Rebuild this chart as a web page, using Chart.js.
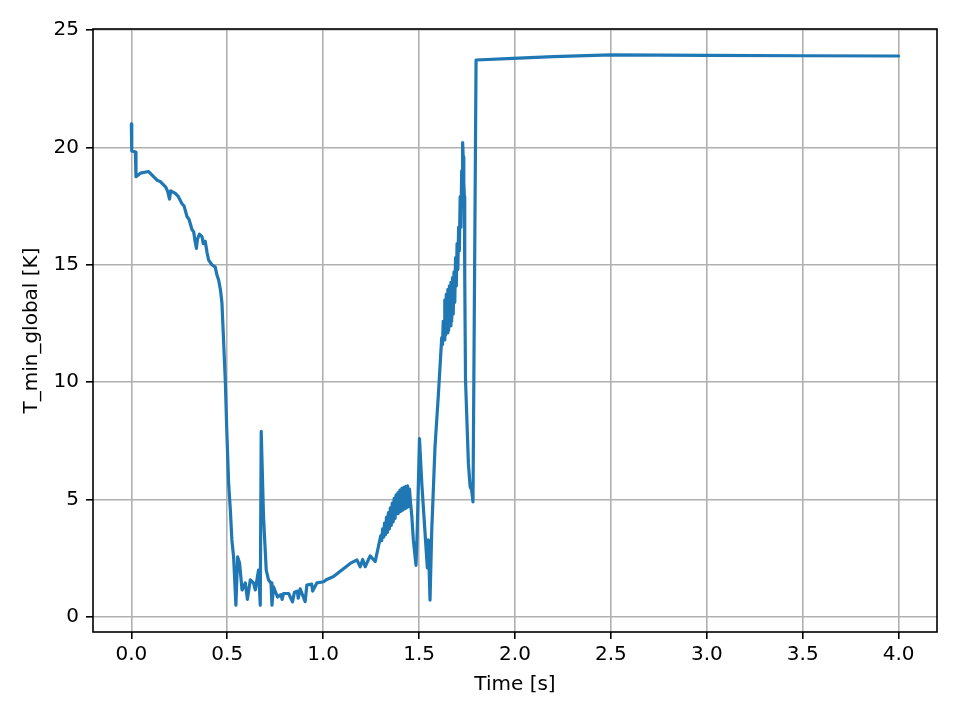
<!DOCTYPE html>
<html>
<head>
<meta charset="utf-8">
<script src="https://cdn.jsdelivr.net/npm/chart.js@4/dist/chart.umd.min.js"></script>
<style>
  html, body { margin: 0; padding: 0; background: #fff; }
  #wrap { width: 960px; height: 720px; }
</style>
</head>
<body>
<div id="wrap"><canvas id="chartCanvas"></canvas></div>
<script>
// valeurs
const times = [
  0.000, 0.002, 0.021, 0.024, 0.047, 0.090, 0.134, 0.150, 0.168, 0.180,
  0.190, 0.199, 0.205, 0.229, 0.245, 0.264, 0.275, 0.290, 0.300, 0.316,
  0.325, 0.332, 0.339, 0.345, 0.355, 0.368, 0.375, 0.385, 0.395, 0.403,
  0.420, 0.4375, 0.445, 0.455, 0.465, 0.472, 0.479, 0.490, 0.498, 0.507,
  0.516, 0.524, 0.533, 0.545, 0.554, 0.564, 0.577, 0.594, 0.605, 0.620,
  0.637, 0.646, 0.663, 0.672, 0.677, 0.689, 0.703, 0.715, 0.728, 0.733,
  0.741, 0.762, 0.780, 0.786, 0.793, 0.820, 0.840, 0.850, 0.865, 0.870,
  0.880, 0.906, 0.915, 0.940, 0.945, 0.967, 1.002, 1.019, 1.054, 1.089,
  1.141, 1.176, 1.193, 1.206, 1.219, 1.245, 1.271, 1.288,
  1.300, 1.305, 1.310, 1.315, 1.320, 1.325, 1.330, 1.335, 1.340, 1.345,
  1.350, 1.355, 1.360, 1.365, 1.370, 1.375, 1.380, 1.385, 1.390, 1.395,
  1.400, 1.405, 1.410, 1.415, 1.420, 1.425, 1.430, 1.435, 1.440, 1.445,
  1.450, 1.455, 1.462, 1.470, 1.484, 1.490, 1.502, 1.514, 1.531, 1.543,
  1.548, 1.557, 1.566, 1.583, 1.600,
  1.618, 1.622, 1.626, 1.630, 1.634, 1.638, 1.642, 1.646, 1.650, 1.654,
  1.658, 1.662, 1.666, 1.670, 1.674, 1.678, 1.682, 1.686, 1.690, 1.694,
  1.698, 1.702, 1.706, 1.710, 1.714, 1.718, 1.722, 1.725, 1.727, 1.730,
  1.733, 1.736, 1.738, 1.742, 1.757, 1.766, 1.774, 1.781, 1.797,
  1.990, 2.200, 2.500, 3.000, 3.500, 4.000
];
const tMinGlobal = [
  21.0, 19.85, 19.8, 18.75, 18.9, 18.97, 18.6, 18.55, 18.4, 18.3,
  18.1, 17.8, 18.15, 18.04, 17.9, 17.6, 17.5, 17.05, 16.95, 16.5,
  16.4, 16.0, 15.7, 16.1, 16.3, 16.2, 15.9, 16.0, 15.5, 15.2,
  15.0, 14.9, 14.6, 14.35, 13.9, 13.4, 12.1, 10.0, 7.8, 5.7,
  4.56, 3.28, 2.56, 0.5, 2.56, 2.3, 1.15, 1.45, 0.75, 1.58,
  1.45, 1.15, 2.0, 0.5, 7.9, 4.26, 2.0, 1.58, 1.45, 0.5,
  1.28, 0.85, 0.95, 0.75, 1.0, 1.0, 0.64, 1.05, 1.1, 0.8,
  1.2, 0.65, 1.36, 1.4, 1.1, 1.45, 1.5, 1.6, 1.72, 1.95,
  2.28, 2.43, 2.14, 2.45, 2.14, 2.6, 2.36, 3.0,
  3.45, 3.25, 3.75, 3.4, 4.0, 3.5, 4.25, 3.6, 4.45, 3.75,
  4.65, 3.9, 4.85, 4.05, 5.05, 4.2, 5.2, 4.4, 5.3, 4.45,
  5.4, 4.5, 5.48, 4.55, 5.52, 4.6, 5.56, 4.65, 5.58, 4.7,
  5.45, 4.9, 4.3, 3.28, 2.2, 3.58, 7.6, 5.7, 3.58, 2.09,
  3.28, 0.72, 3.7, 7.25, 9.4,
  11.9, 11.6, 12.6, 11.8, 13.5, 12.0, 13.75, 12.1, 13.95, 12.2,
  14.1, 12.4, 14.25, 12.6, 14.45, 12.9, 14.7, 13.4, 15.3, 14.1,
  15.9, 14.8, 16.6, 15.6, 17.9, 16.6, 19.0, 17.5, 20.2, 19.6,
  18.5, 17.9, 14.5, 10.1, 6.55, 5.55, 5.4, 4.9, 23.72,
  23.79, 23.86, 23.94, 23.92, 23.9, 23.89
];
const xTicks = [0.0, 0.5, 1.0, 1.5, 2.0, 2.5, 3.0, 3.5, 4.0];
const yTicks = [0, 5, 10, 15, 20, 25];

const points = [];
for (let i = 0; i < times.length; i++) {
  points.push({ x: times[i], y: tMinGlobal[i] });
}

// cadre complet (haut + droite comme matplotlib)
const framePlugin = {
  id: "frame",
  afterDraw(chart) {
    const a = chart.chartArea;
    const c = chart.ctx;
    c.save();
    c.strokeStyle = "#000";
    c.lineWidth = 1.6;
    c.strokeRect(a.left, a.top, a.right - a.left, a.bottom - a.top);
    c.restore();
  }
};

const font = { family: "DejaVu Sans", size: 20 };

const ctx = document.getElementById("chartCanvas").getContext("2d");
new Chart(ctx, {
  type: "line",
  data: {
    datasets: [
      {
        label: "T_min_global",
        data: points,
        borderColor: "#1f77b4",
        borderWidth: 3.2,
        pointRadius: 0,
        tension: 0,
        borderJoinStyle: "round",
        borderCapStyle: "round",
      },
    ],
  },
  options: {
    responsive: true,
    maintainAspectRatio: false,
    animation: false,
    layout: { padding: { top: 29, right: 23, left: 0, bottom: 0 } },
    plugins: { legend: { display: false }, tooltip: { enabled: false } },
    scales: {
      x: {
        type: "linear",
        min: -0.2,
        max: 4.2,
        afterBuildTicks: (s) => { s.ticks = xTicks.map((v) => ({ value: v })); },
        afterFit: (s) => { s.height = 88; },
        grid: { color: "#b0b0b0", lineWidth: 1.6, tickColor: "#000", tickLength: 7 },
        border: { display: false },
        ticks: {
          color: "#000",
          font: font,
          padding: 4,
          maxRotation: 0,
          autoSkip: false,
          callback: (v) => v.toFixed(1),
        },
        title: { display: true, text: "Time [s]", color: "#000", font: font, padding: { bottom: 23 } },
      },
      y: {
        type: "linear",
        min: -0.64,
        max: 25.04,
        afterBuildTicks: (s) => { s.ticks = yTicks.map((v) => ({ value: v })); },
        afterFit: (s) => { s.width = 93; },
        grid: { color: "#b0b0b0", lineWidth: 1.6, tickColor: "#000", tickLength: 7 },
        border: { display: false },
        ticks: {
          color: "#000",
          font: font,
          padding: 7,
          autoSkip: false,
          callback: (v) => String(v),
        },
        title: { display: true, text: "T_min_global [K]", color: "#000", font: font, padding: { top: 20 } },
      },
    },
  },
  plugins: [framePlugin],
});
</script>
</body>
</html>
